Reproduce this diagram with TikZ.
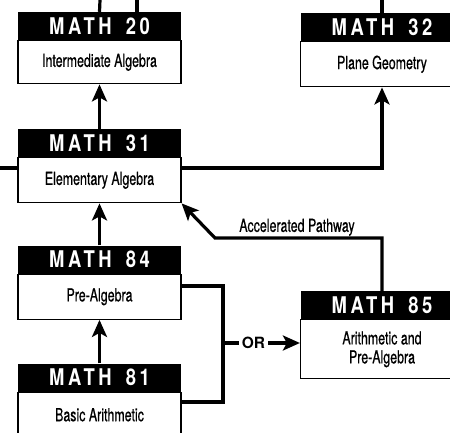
\documentclass[tikz,border=0pt]{standalone}
\usepackage{fontspec}
\newfontfamily\headfont[FakeStretch=0.8,LetterSpace=16,WordSpace=1.6]{TeX Gyre Heros}
\newfontfamily\bodyfont[FakeStretch=0.69,FakeBold=0.6]{TeX Gyre Heros}
\newfontfamily\orfont{TeX Gyre Heros}
\usetikzlibrary{positioning}
\usetikzlibrary{arrows.meta}
\tikzset{
        coursenode/.style={rectangle, inner sep=0pt, minimum width=163pt, align=center},
        % Black title bar with the course number
        course_head/.style={coursenode, fill=black, text=white, minimum height=28pt, font=\headfont\fontsize{23}{24}\selectfont\bfseries},
        % White box with the course name
        course_body/.style={coursenode, draw=black, fill=white, line width=1.2pt, minimum height=45pt, font=\bodyfont\fontsize{18}{19}\selectfont},
        % Plain connecting lines
        wire/.style={draw=black, line width=3.2pt},
        % Lines ending in an arrow
        link/.style={wire, -{Stealth[length=17pt,width=15pt,inset=4pt]}},
        % Labels on the lines
        path_label/.style={inner sep=1pt, font=\bodyfont\fontsize{18}{19}\selectfont},
        or_label/.style={inner xsep=3pt, inner ysep=0pt, font=\orfont\fontsize{15.5}{18}\selectfont\bfseries}
}
\begin{document}
\begin{tikzpicture}[x=1pt, y=-1pt]
            \useasboundingbox (0,0) rectangle (450,433);
            % Courses
            \node[course_head] (m20h) at (99.5,26) {MATH 20};
            \node[course_body, minimum height=43pt, below=0pt of m20h] (m20) {Intermediate Algebra};
            \node[course_head] (m31h) at (99.5,143) {MATH 31};
            \node[course_body, below=0pt of m31h] (m31) {Elementary Algebra};
            \node[course_head] (m84h) at (99.5,259.5) {MATH 84};
            \node[course_body, below=0pt of m84h] (m84) {Pre-Algebra};
            \node[course_head] (m81h) at (99.5,377.5) {MATH 81};
            \node[course_body, below=0pt of m81h] (m81) {Basic Arithmetic};
            \node[course_head] (m32h) at (382,27) {MATH 32};
            \node[course_body, below=0pt of m32h] (m32) {Plane Geometry};
            \node[course_head] (m85h) at (382,305) {MATH 85};
            \node[course_body, minimum height=59pt, below=0pt of m85h] (m85) {Arithmetic and\\Pre-Algebra};
            % Free ends and bends
            \coordinate (top_a) at (100,0);
            \coordinate (top_b) at (137,0);
            \coordinate (top_c) at (382,0);
            \coordinate (left_in) at (0,168);
            \coordinate (acc_bend) at (215,238);
            \coordinate (or_top) at (223,286);
            \coordinate (or_bot) at (223,402);
            % Connectors
            \draw[wire] (m20h.north) -- (top_a);
            \draw[wire] (top_b |- m20h.north) -- (top_b);
            \draw[wire] (m32h.north) -- (top_c);
            \draw[link] (m31h.north) -- (m20.south);
            \draw[link] (m84h.north) -- (m31.south);
            \draw[link] (m81h.north) -- (m84.south);
            \draw[wire] (left_in) -- (left_in -| m31.west);
            \draw[link] (left_in -| m31.east) -| (m32.south);
            \draw[link] (m85h.north) |- (acc_bend) -- (m31.south east);
            \node[path_label, anchor=south] (acc) at (297,237) {Accelerated Pathway};
            \draw[wire] (or_top -| m84.east) -- (or_top) -- (or_bot) -- (or_bot -| m81.east);
            \node[or_label] (or) at (253.5,343) {OR};
            \draw[wire] (or_top |- or) -- (or);
            \draw[link] (or) -- (or -| m85.west);
\end{tikzpicture}
\end{document}
